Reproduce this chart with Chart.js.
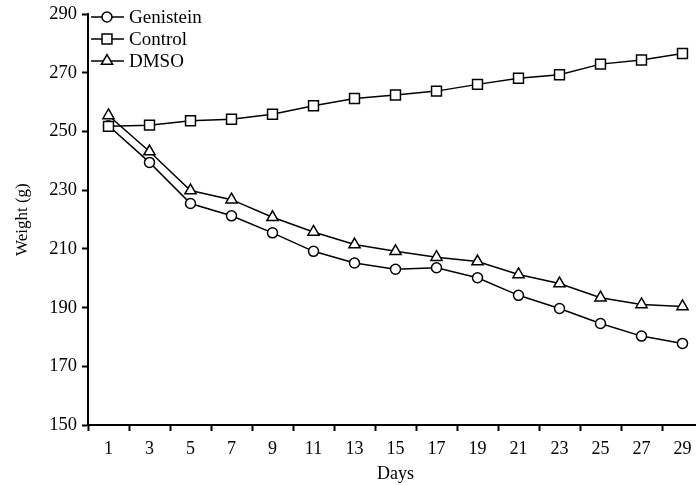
<!DOCTYPE html>
<html>
<head>
<meta charset="utf-8">
<script src="https://cdn.jsdelivr.net/npm/chart.js@4/dist/chart.umd.min.js"></script>
<style>
  body { margin: 0; background: #fff; overflow: hidden; }
  #wrap { width: 712px; height: 485px; position: relative; }
</style>
</head>
<body>
<div id="wrap"><canvas id="myChart"></canvas></div>
<script>
// dagen en gewichten
const days = ["1", "3", "5", "7", "9", "11", "13", "15", "17", "19", "21", "23", "25", "27", "29"];
const genistein = [252, 239.5, 225.5, 221.3, 215.5, 209.2, 205.2, 203.1, 203.6, 200.2, 194.2, 189.7, 184.6, 180.3, 177.8];
const control = [251.8, 252.2, 253.7, 254.2, 255.9, 258.8, 261.3, 262.5, 263.8, 266.1, 268.2, 269.4, 273, 274.4, 276.6];
const dmso = [255.5, 243.2, 229.9, 226.8, 220.8, 215.8, 211.5, 209.2, 207.2, 205.7, 201.3, 198.2, 193.4, 191.1, 190.4];
const yTicks = [150, 170, 190, 210, 230, 250, 270, 290];

const serif = "'Liberation Serif', 'Times New Roman', serif";

function marker(ctx, style, r, x, y) {
  ctx.beginPath();
  if (style === "circle") {
    ctx.arc(x, y, r, 0, Math.PI * 2);
  } else if (style === "rect") {
    const s = Math.SQRT1_2 * r;
    ctx.rect(x - s, y - s, 2 * s, 2 * s);
  } else {
    const a = r * Math.sqrt(3) / 2;
    ctx.moveTo(x, y - r);
    ctx.lineTo(x + a, y + r / 2);
    ctx.lineTo(x - a, y + r / 2);
    ctx.closePath();
  }
  ctx.fill();
  ctx.stroke();
}

// eigen legenda: lijn met symbool erdoor
const lineLegend = {
  id: "lineLegend",
  afterDraw(chart) {
    const ctx = chart.ctx;
    ctx.save();
    chart.data.datasets.forEach((ds, i) => {
      const y = 17 + i * 22;
      ctx.strokeStyle = "#000";
      ctx.lineWidth = 1.5;
      ctx.beginPath();
      ctx.moveTo(91, y);
      ctx.lineTo(124, y);
      ctx.stroke();
      ctx.fillStyle = "#fff";
      marker(ctx, ds.pointStyle, ds.pointRadius, 107, y);
      ctx.fillStyle = "#000";
      ctx.font = "19px " + serif;
      ctx.textBaseline = "middle";
      ctx.textAlign = "left";
      ctx.fillText(ds.label, 129, y + 1);
    });
    ctx.restore();
  }
};

const common = {
  borderColor: "#000",
  borderWidth: 1.5,
  pointBackgroundColor: "#fff",
  pointBorderColor: "#000",
  pointBorderWidth: 1.5,
  fill: false,
  tension: 0
};

new Chart(document.getElementById("myChart"), {
  type: "line",
  data: {
    labels: days,
    datasets: [
      { ...common, label: "Genistein", data: genistein, pointStyle: "circle", pointRadius: 5, order: 2 },
      { ...common, label: "Control", data: control, pointStyle: "rect", pointRadius: 7, order: 0 },
      { ...common, label: "DMSO", data: dmso, pointStyle: "triangle", pointRadius: 6.5, order: 1 }
    ]
  },
  options: {
    responsive: true,
    maintainAspectRatio: false,
    animation: false,
    layout: { padding: { top: 13, right: 9, left: 0, bottom: 0 } },
    plugins: {
      legend: { display: false },
      tooltip: { enabled: false }
    },
    scales: {
      x: {
        type: "category",
        offset: true,
        grid: { offset: true, drawOnChartArea: false, drawTicks: true, tickLength: 6, tickColor: "#000", tickWidth: 2 },
        border: { display: true, color: "#000", width: 2 },
        ticks: { color: "#000", font: { family: serif, size: 18 }, padding: 7, maxRotation: 0, autoSkip: false },
        title: { display: true, text: "Days", color: "#000", font: { family: serif, size: 18 }, padding: { top: 1, bottom: 0 } },
        afterFit(scale) { scale.height = 60; }
      },
      y: {
        min: 150,
        max: 290,
        afterBuildTicks(scale) { scale.ticks = yTicks.map(v => ({ value: v })); },
        grid: { drawOnChartArea: false, drawTicks: true, tickLength: 6, tickColor: "#000", tickWidth: 2 },
        border: { display: true, color: "#000", width: 2 },
        ticks: { color: "#000", font: { family: serif, size: 18.5, lineHeight: 1 }, padding: 5 },
        title: { display: true, text: "Weight (g)", color: "#000", font: { family: serif, size: 17 }, padding: { top: 12, bottom: 4 } },
        afterFit(scale) { scale.width = 88; }
      }
    }
  },
  plugins: [lineLegend]
});
</script>
</body>
</html>
